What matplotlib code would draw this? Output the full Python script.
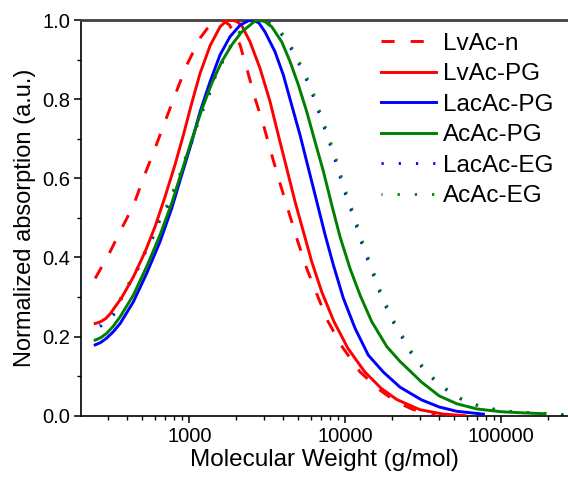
import matplotlib
matplotlib.use("Agg")
import matplotlib.pyplot as plt
from matplotlib.ticker import LogLocator, NullFormatter, FixedLocator, MultipleLocator

plt.rcParams['font.family'] = ['Liberation Sans', 'DejaVu Sans']

# ---- data (molecular weight g/mol, normalized absorption) ----
lvac_n_mw = [249, 303, 369, 439, 507, 603, 698, 809, 962, 1171, 1300, 1450, 1620, 1800, 1950,
             2113, 2333, 2637, 2985, 3374, 3814, 4330, 4921, 5656, 6600, 7750,
             9550, 12400, 16500, 21000, 27000, 38000]
lvac_n_val = [0.347, 0.406, 0.474, 0.532, 0.600, 0.676, 0.743, 0.810, 0.886, 0.954, 0.978, 0.994, 1.000, 0.988, 0.966,
              0.937, 0.878, 0.802, 0.735, 0.659, 0.587, 0.516, 0.444, 0.372, 0.305, 0.238,
              0.174, 0.111, 0.066, 0.036, 0.016, 0.003]

lvac_pg_mw = [249, 268, 290, 310, 369, 438, 520, 603, 698, 809, 915, 1036, 1171, 1358, 1574, 1720,
              1870, 2020, 2166, 2449, 2838, 3290, 3720, 4210, 4760, 5385, 6093, 7059, 8450,
              10400, 13300, 17000, 21360, 26030, 30160, 42550, 58500]
lvac_pg_val = [0.233, 0.237, 0.245, 0.257, 0.299, 0.351, 0.414, 0.478, 0.553, 0.634, 0.709, 0.790, 0.865, 0.935, 0.983, 0.997,
               1.000, 0.996, 0.986, 0.945, 0.878, 0.794, 0.709, 0.625, 0.541, 0.465, 0.389, 0.313, 0.238,
               0.170, 0.111, 0.069, 0.041, 0.026, 0.015, 0.004, 0.000]

lacac_pg_mw = [249, 270, 295, 325, 360, 438, 533, 649, 771, 893, 1036, 1171, 1358, 1574, 1824, 2115,
               2389, 2570, 2800, 3054, 3540, 4005, 4530, 5127, 5800, 6560, 7420, 8380, 9710, 11540,
               14040, 17550, 22440, 30800, 40000, 52000, 76800]
lacac_pg_val = [0.179, 0.185, 0.196, 0.212, 0.233, 0.288, 0.360, 0.440, 0.524, 0.608, 0.692, 0.768, 0.844, 0.912, 0.958, 0.987,
                0.998, 1.000, 0.992, 0.970, 0.920, 0.861, 0.785, 0.709, 0.625, 0.541, 0.457, 0.381, 0.297, 0.221,
                0.153, 0.110, 0.072, 0.040, 0.022, 0.011, 0.004]

acac_pg_mw = [249, 270, 295, 325, 360, 438, 533, 649, 771, 893, 1036, 1200, 1392, 1614, 1870, 2166, 2449,
              2600, 2767, 3050, 3374, 3909, 4423, 5000, 5660, 6400, 7240, 8190, 9250, 10720, 12420,
              14750, 18420, 22440, 26000, 30800, 40000, 52000, 70000, 100000, 140000, 190000]
acac_pg_val = [0.191, 0.197, 0.208, 0.226, 0.250, 0.305, 0.377, 0.457, 0.537, 0.617, 0.697, 0.773, 0.840, 0.895, 0.937, 0.970, 0.987,
               0.996, 1.000, 0.996, 0.983, 0.945, 0.895, 0.836, 0.768, 0.692, 0.617, 0.532, 0.452, 0.372, 0.305,
               0.238, 0.175, 0.137, 0.113, 0.085, 0.050, 0.030, 0.017, 0.010, 0.007, 0.005]

lacac_eg_mw = [268, 326, 369, 417, 471, 525, 588, 649, 734, 810, 893, 962, 1061, 1142, 1260,
               1392, 1498, 1737, 1914, 2300, 2700, 3150, 3630, 4210, 4760, 5330, 5950, 6470,
               7060, 7700, 8380, 9020, 9700, 10600, 11540, 12420, 13530, 14900, 16300, 17950,
               20110, 22960, 26000, 30800, 37100, 45100, 55000, 70000, 90000, 117000, 152000,
               198000, 257000]
lacac_eg_val = [0.225, 0.254, 0.297, 0.335, 0.372, 0.414, 0.452, 0.495, 0.532, 0.575, 0.617, 0.659, 0.701, 0.743, 0.785,
                0.827, 0.869, 0.911, 0.950, 0.985, 1.000, 0.995, 0.979, 0.947, 0.909, 0.869, 0.829, 0.787,
                0.745, 0.703, 0.661, 0.618, 0.575, 0.532, 0.490, 0.448, 0.406, 0.362, 0.320, 0.280,
                0.239, 0.200, 0.162, 0.124, 0.090, 0.063, 0.042, 0.026, 0.016, 0.010, 0.008,
                0.005, 0.002]

acac_eg_mw = [262, 326, 369, 417, 471, 525, 588, 649, 734, 810, 893, 962, 1061, 1142, 1260,
              1392, 1498, 1737, 1914, 2300, 2750, 3200, 3700, 4300, 4860, 5440, 6070, 6600,
              7200, 7850, 8550, 9200, 9900, 10800, 11770, 12670, 13800, 15200, 16600, 18300,
              20500, 23400, 26500, 31400, 37800, 46000, 56000, 71400, 91800, 119000, 155000,
              202000, 262000]
acac_eg_val = [0.232, 0.262, 0.303, 0.341, 0.378, 0.420, 0.458, 0.500, 0.538, 0.580, 0.622, 0.664, 0.706, 0.748, 0.790,
               0.831, 0.872, 0.914, 0.952, 0.986, 1.000, 0.995, 0.979, 0.947, 0.909, 0.869, 0.829, 0.787,
               0.745, 0.703, 0.661, 0.618, 0.575, 0.532, 0.490, 0.448, 0.406, 0.362, 0.320, 0.280,
               0.239, 0.200, 0.162, 0.124, 0.090, 0.063, 0.042, 0.026, 0.016, 0.010, 0.008,
               0.005, 0.002]

labels = ['LvAc-n', 'LvAc-PG', 'LacAc-PG', 'AcAc-PG', 'LacAc-EG', 'AcAc-EG']
colors = ['#ff0000', '#ff0000', '#0000ff', '#008000', '#0000ff', '#008000']

x_lim = (202, 267700)
y_lim = (0.0, 1.0)

fig = plt.figure(figsize=(5.68, 4.82), dpi=100)
ax = fig.add_axes([81 / 568, 1 - 415.7 / 482, 1 - 81 / 568, (415.7 - 20) / 482])

lw = 2.1
ax.plot(lacac_eg_mw, lacac_eg_val, color=colors[4], lw=2.0, linestyle=(0, (0.8, 5.4)),
        dash_capstyle='butt', label=labels[4], zorder=2)
ax.plot(acac_eg_mw, acac_eg_val, color=colors[5], lw=2.0, linestyle=(0.4, (0.8, 5.4)),
        dash_capstyle='butt', label=labels[5], zorder=2)
ax.plot(lvac_n_mw, lvac_n_val, color=colors[0], lw=lw, linestyle=(0, (4.5, 5.5)),
        label=labels[0], zorder=3)
ax.plot(lvac_pg_mw, lvac_pg_val, color=colors[1], lw=lw, label=labels[1], zorder=3)
ax.plot(lacac_pg_mw, lacac_pg_val, color=colors[2], lw=lw, label=labels[2], zorder=3)
ax.plot(acac_pg_mw, acac_pg_val, color=colors[3], lw=lw, label=labels[3], zorder=3)

ax.set_xscale('log')
ax.set_xlim(*x_lim)
ax.set_ylim(*y_lim)

ax.xaxis.set_major_locator(FixedLocator([1000, 10000, 100000]))
ax.set_xticklabels(['1000', '10000', '100000'])
ax.xaxis.set_minor_locator(LogLocator(base=10, subs=range(2, 10), numticks=20))
ax.xaxis.set_minor_formatter(NullFormatter())
ax.yaxis.set_minor_locator(MultipleLocator(0.1))
ax.set_yticks([0.0, 0.2, 0.4, 0.6, 0.8, 1.0])
ax.set_yticklabels(['0.0', '0.2', '0.4', '0.6', '0.8', '1.0'])

ax.tick_params(axis='both', which='major', direction='out', length=5, width=1.1,
               labelsize=14.5, colors='black', top=False, right=False, pad=3)
ax.tick_params(axis='both', which='minor', direction='out', length=3, width=1.0,
               top=False, right=False)
ax.spines['right'].set_visible(False)
ax.spines['top'].set_color('#404040')
ax.spines['top'].set_linewidth(2.0)
for s in ['left', 'bottom']:
    ax.spines[s].set_linewidth(1.2)
    ax.spines[s].set_color('black')

ax.set_xlabel('Molecular Weight (g/mol)', fontsize=17.5, labelpad=2)
ax.set_ylabel('Normalized absorption (a.u.)', fontsize=17, labelpad=4)

handles, labs = ax.get_legend_handles_labels()
order = [labs.index(l) for l in labels]
leg = ax.legend([handles[i] for i in order], [labs[i] for i in order],
                loc='upper left', bbox_to_anchor=(0.616, 0.968), frameon=False,
                fontsize=17.5, handlelength=2.26, handletextpad=0.3,
                labelspacing=0.35, borderaxespad=0.0, borderpad=0.0)

fig.savefig('out.png', dpi=100)
